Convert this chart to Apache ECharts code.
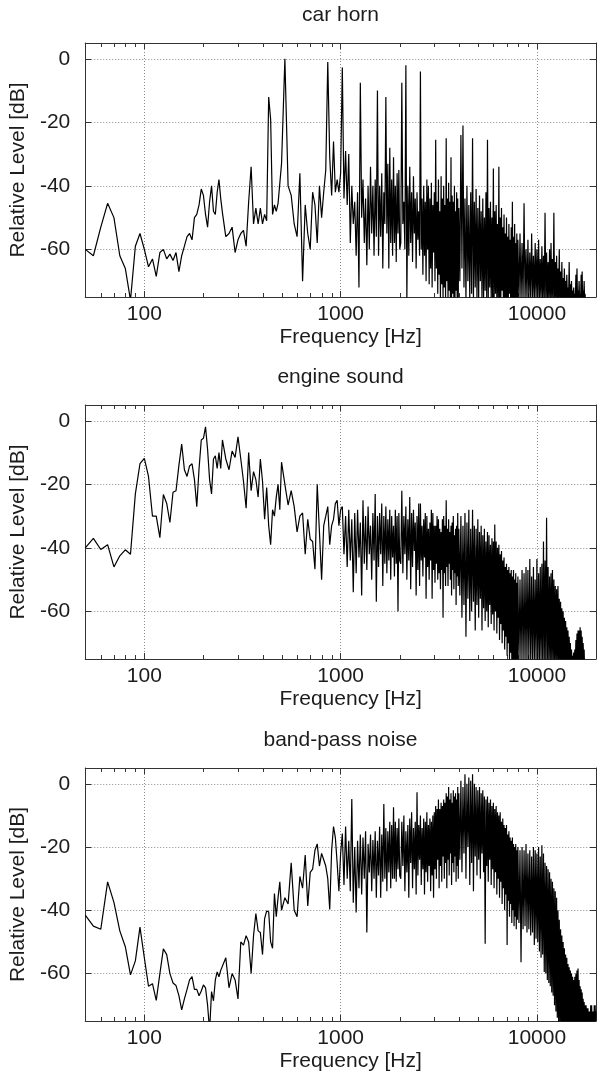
<!DOCTYPE html>
<html>
<head>
<meta charset="utf-8">
<script src="https://cdn.jsdelivr.net/npm/echarts@6/dist/echarts.min.js"></script>
<style>
html,body{margin:0;padding:0;background:#fff;}
#c{width:601px;height:1073px;}
</style>
</head>
<body>
<div id="c"></div>
<script>
// ---------- data ----------
const panelTitles = ['car horn', 'engine sound', 'band-pass noise'];
const xTickLabels = ['100', '1000', '10000'];
const yTickValues = [0, -20, -40, -60];
const minorTickHz = [60, 70, 80, 90, 200, 300, 400, 500, 600, 700, 800, 900,
  2000, 3000, 4000, 5000, 6000, 7000, 8000, 9000];

// shared frequency grid (Hz)
const freqHz = [
  50,55,60,65,70,75,80,85,90,95,100,105,110,115,120,125,130,135,140,145,150,155,160,165,170,175,180,185,190,195,200,205,210,215,220,225,230,235,240,245,250,
  260,270,280,290,300,310,320,330,340,350,360,370,380,390,400,410,420,430,440,450,460,470,480,490,500,
  520,540,560,580,600,620,640,660,680,700,720,740,760,780,800,820,840,860,880,900,920,940,960,980,1000,
  1020,1040,1060,1080,1100,1120,1140,1160,1180,1200,1220,1240,1260,1280,1300,1320,1340,1360,1380,1400,1420,1440,1460,1480,1500,
  1520,1540,1560,1580,1600,1620,1640,1660,1680,1700,1720,1740,1760,1780,1800,1820,1840,1860,1880,1900,1920,1940,1960,1980,2000,
  2025,2050,2075,2100,2125,2150,2175,2200,2225,2250,2275,2300,2325,2350,2375,2400,2425,2450,2475,2500,
  2525,2550,2575,2600,2625,2650,2675,2700,2725,2750,2775,2800,2825,2850,2875,2900,2925,2950,2975,3000,
  3025,3050,3075,3100,3125,3150,3175,3200,3225,3250,3275,3300,3325,3350,3375,3400,3425,3450,3475,3500,
  3525,3550,3575,3600,3625,3650,3675,3700,3725,3750,3775,3800,3825,3850,3875,3900,3925,3950,3975,4000,
  4050,4100,4150,4200,4250,4300,4350,4400,4450,4500,4550,4600,4650,4700,4750,4800,4850,4900,4950,5000,
  5050,5100,5150,5200,5250,5300,5350,5400,5450,5500,5550,5600,5650,5700,5750,5800,5850,5900,5950,6000,
  6050,6100,6150,6200,6250,6300,6350,6400,6450,6500,6550,6600,6650,6700,6750,6800,6850,6900,6950,7000,
  7050,7100,7150,7200,7250,7300,7350,7400,7450,7500,7550,7600,7650,7700,7750,7800,7850,7900,7950,8000,
  8100,8200,8300,8400,8500,8600,8700,8800,8900,9000,9100,9200,9300,9400,9500,9600,9700,9800,9900,10000,
  10100,10200,10300,10400,10500,10600,10700,10800,10900,11000,11100,11200,11300,11400,11500,11600,11700,11800,11900,12000,
  12100,12200,12300,12400,12500,12600,12700,12800,12900,13000,13100,13200,13300,13400,13500,13600,13700,13800,13900,14000,
  14100,14200,14300,14400,14500,14600,14700,14800,14900,15000,15100,15200,15300,15400,15500,15600,15700,15800,15900,16000,
  16100,16200,16300,16400,16500,16600,16700,16800,16900,17000,17100,17200,17300,17400,17500,17600,17700,17800,17900,18000,
  18100,18200,18300,18400,18500,18600,18700,18800,18900,19000,19100,19200,19300,19400,19500,19600,19700,19800,19900,20000
];

// relative level (dB) per panel, aligned with freqHz
const carHornDb = [
  -60,-62,-53,-45.5,-50,-62,-66,-76,-59,-55,-60,-65.5,-63,-68.5,-61,-60,-63,-61.5,-63.5,-61,-67,-62,-59,-56,-55,-57,-50,-49,-46,-41,-43,-49,-53,-45,-40,-48,-49,-42,-38,-44,-48.5,
  -56,-55,-53,-61,-57,-55,-54,-59,-45,-34,-52,-47,-52,-47,-52,-49,-51,-12,-19,-49,-46,-48,-45.5,-45,-33,
  0,-40,-43,-52,-56,-36,-70,-46,-55,-60,-42,-46,-58,-40,-50,-42,-35,-1,-31,-43,-26,-42,-38,-42,-36,
  -2.7,-44,-29,-46,-30,-58,-40,-52,-45,-62,-42,-72,-7.5,-50,-38,-58,-44,-65,-40,-60,-34,-55,-40,-62,-38,
  -56,-10,-62,-40,-56,-36,-66,-42,-52,-12,-55,-33,-66,-28,-58,-38,-62,-31,-58,-40,-64,-36,-55,-35,-60,
  -58,-7.5,-52,-45,-60,-2,-76,-40,-62,-34,-58,-42,-64,-37,-55,-44,-66,-42,-57,-48,
  -62,-4,-60,-44,-68,-40,-62,-45,-70,-38,-60,-40,-71,-44,-66,-39,-72,-46,-61,-42,
  -70,-25.5,-66,-45,-74,-38,-68,-48,-76,-37,-71,-44,-76,-40,-72,-46,-76,-25,-70,-44,
  -76,-39,-73,-45,-76,-31,-76,-43,-74,-45,-76,-40,-76,-48,-73,-42,-76,-44,-76,-47,
  -70,-24,-66,-21,-72,-44,-76,-40,-70,-46,-76,-42,-74,-25,-76,-45,-72,-41,-76,-47,
  -76,-43,-70,-48,-76,-44,-76,-50,-73,-42,-76,-25.5,-76,-47,-72,-45,-76,-50,-76,-34.5,
  -76,-48,-74,-46,-76,-52,-76,-34,-76,-50,-76,-47,-73,-53,-76,-49,-76,-55,-76,-50,
  -76,-56,-76,-52,-74,-57,-76,-53,-76,-45,-76,-56,-76,-52,-76,-58,-76,-55,-76,-57,
  -76,-55,-76,-58,-76,-45.5,-76,-60,-76,-57,-76,-61,-76,-55,-76,-62,-76,-58,-76,-60,
  -76,-57,-76,-63,-76,-59,-76,-62,-76,-48.5,-76,-61,-76,-64,-76,-60,-76,-58,-76,-63,
  -76,-48.5,-76,-64,-76,-62,-76,-66,-76,-60,-76,-67,-76,-64,-76,-69,-76,-66,-76,-70,
  -76,-68,-76,-72,-76,-64,-76,-71,-76,-70,-76,-73,-76,-72,-76,-74,-76,-68,-76,-66,
  -76,-73,-76,-70,-76,-74,-76,-68,-76,-67,-76,-73,-76,-70,-76,-74,-80,-80,-80,-80,
  -80,-80,-80,-80,-80,-80,-80,-80,-80,-80,-80,-80,-80,-80,-80,-80,-80,-80,-80,-80
];

const engineSoundDb = [
  -40,-37,-40.5,-39,-46,-42.5,-40.6,-42,-23,-13.5,-11.8,-17.5,-30,-30,-36.8,-23.2,-26,-32,-22.5,-22,-14,-7.3,-15.4,-17.5,-14.2,-13.5,-18.5,-27,-15,-6,-5.5,-1.9,-9,-18.5,-23,-12,-11,-15,-10,-15,-6,
  -12,-15.4,-9.5,-11.5,-5,-12,-19,-27.5,-10,-22,-16,-18.5,-24,-12,-19,-31,-21,-33,-39,-28,-30,-24,-20,-28,-13,
  -20,-26.5,-22,-27,-35,-30,-29,-42,-31,-37.3,-38,-46.7,-20,-35,-50,-33,-30,-27,-39,-33,-31,-26,-25,-33,-28,
  -27,-42,-30,-46,-28,-44,-31,-54,-29,-48,-28,-43,-32,-55,-25,-45,-30,-47,-27,-42,-33,-50,-29,-44,-23,
  -57,-30,-46,-29,-42,-26,-52,-30,-45,-27,-48,-31,-44,-28,-50,-30,-43,-33,-49,-28,-45,-30,-60,-29,-44,
  -45,-22,-48,-30,-42,-27,-50,-31,-44,-24,-53,-29,-46,-28,-41,-32,-55,-30,-47,-26,
  -52,-26,-44,-33,-49,-31,-43,-29,-56,-30,-46,-34,-50,-32,-44,-28,-56,-29,-47,-33,
  -51,-33,-45,-30,-50,-31,-48,-34,-53,-35,-47,-31,-62,-30,-48,-33,-52,-25,-46,-34,
  -52,-31,-45,-35,-50,-33,-55,-32,-47,-30,-53,-36,-48,-34,-58,-33,-49,-29,-52,-34,
  -55,-30,-62,-33,-58,-29,-68,-32,-56,-28,-63,-34,-60,-28,-57,-33,-66,-34,-58,-31,
  -62,-35,-56,-33,-66,-36,-59,-34,-63,-38,-60,-35,-65,-36,-58,-39,-64,-37,-61,-38,
  -66,-32.6,-60,-38,-67,-40,-62,-39,-69,-42,-64,-41,-70,-44,-66,-43,-72,-46,-68,-45,
  -74,-47,-70,-46,-76,-48,-73,-47,-76,-49,-76,-47,-76,-50,-76,-48,-76,-51,-76,-49,
  -76,-50,-76,-47,-76,-48,-76,-46,-76,-47,-76,-43.5,-76,-49,-76,-46,-76,-50,-76,-43.5,
  -76,-48,-76,-46,-76,-45,-76,-38,-76,-44,-76,-30.5,-76,-46,-76,-49,-76,-48,-76,-47,
  -76,-50,-76,-52,-76,-53,-76,-52,-76,-56,-76,-57,-76,-59,-76,-60,-76,-62,-76,-63,
  -76,-65,-76,-66,-76,-68,-76,-70,-76,-72,-76,-74,-76,-73,-76,-72,-76,-69,-76,-67,
  -76,-66,-76,-66,-76,-65,-76,-66,-76,-68,-76,-70,-76,-72,-78,-80,-80,-80,-80,-80,
  -80,-80,-80,-80,-80,-80,-80,-80,-80,-80,-80,-80,-80,-80,-80,-80,-80,-80,-80,-80
];

const bandPassNoiseDb = [
  -41.5,-45,-46,-31,-37.5,-46.5,-51.5,-60.4,-56,-45.3,-55,-64,-63.2,-68.5,-60,-52.2,-54,-60,-63,-63.8,-67,-71.5,-68,-65,-62,-61,-65,-65,-67,-65.5,-63.6,-64.5,-70,-78,-65.7,-68.6,-62,-59.5,-61,-59,-59.5,
  -55,-64.5,-60,-62,-68,-50,-51,-48,-50,-60,-48,-41,-46.5,-47,-54,-42.6,-40.2,-40.5,-50,-52,-34.7,-42,-36,-31,-40,
  -36,-38,-25,-40,-42,-29.3,-33,-22.5,-38.6,-28,-27,-21,-19,-26,-22,-24,-26,-30,-39.7,-21,-13.5,-17,-25,-34,-22,
  -15.7,-32,-13.5,-30,-18,-34,-4.8,-37.6,-20,-40.7,-18,-33,-16,-35,-17,-30,-15,-47,-19,-28,-16,-34,-17.8,-30,-15,
  -36,-18,-29,-13.6,-36,-16,-31,-6.4,-30,-14,-34,-15,-28,-12,-33,-13,-30,-7.4,-30,-12,-31,-14,-27,-11,-29,
  -30,-12,-26,-10,-34,-15,-28,-13,-36,-11,-25,-9,-33,-14,-27,-12,-35,-2.7,-29,-13,
  -24,-10,-32,-14,-27,-11,-35,-12,-28,-9,-31,-13,-26,-11,-34,-12,-29,-10,-36,-9,
  -27,-7,-30,-8,-24,-5,-33,-8,-26,-6,-31,-7,-23,-5,-30,-6,-25,-3,-33,-4,
  -24,-1,-29,-5,-22,-3,-32,-6,-25,-2,-28,-4,-23,-3,-31,-5,-26,-1,-30,-3,
  -24,1,-28,-1,-22,3,-30,0,-20,2,-32,1,-25,3,-34,0,-23,-1,-29,-2,
  -24,-1,-30,-3,-22,-2,-28,-4,-50.6,-5,-26,-4,-31,-6,-24,-5,-32,-7,-27,-6,
  -33,-8,-28,-7,-35,-9,-30,-10,-36,-9,-31,-12,-38,-11,-33,-13,-40,-14,-35,-13,
  -51,-16,-37,-15,-42,-17,-38,-18,-44,-17,-40,-19,-45,-20,-42,-19,-46,-21,-43,-20,
  -44,-21,-56.4,-20,-46,-21,-45,-19,-47,-22,-46,-21,-48,-23,-47,-20,-51,-21,-49,-22,
  -50,-20,-53,-23,-55,-19.4,-54,-22,-59.5,-25,-60,-26,-62,-27,-63,-28,-64,-30,-66,-31,
  -67,-33,-70,-34,-72,-36,-74,-40,-76,-43,-76,-46,-76,-48,-76,-50,-76,-52,-76,-54,
  -76,-55,-76,-57,-76,-58,-76,-59,-76,-60,-76,-61,-76,-62,-76,-61,-76,-60,-76,-59,
  -76,-58.4,-76,-62,-76,-64,-76,-65,-76,-66,-76,-68,-76,-69,-76,-70,-76,-70,-76,-71,
  -76,-71,-76,-72,-76,-72,-76,-70,-76,-70,-76,-72,-76,-72,-76,-70,-76,-70,-76,-72
];

const panelLevels = [carHornDb, engineSoundDb, bandPassNoiseDb];

// ---------- chart ----------
const FONT = '"Liberation Sans", Arial, Helvetica, sans-serif';
const TXT = '#1c1c1c';
const AX = '#333333';
const Y_MIN = -75, Y_MAX = 5, X_MIN = 50, X_MAX = 20000;
const PLOT_LEFT = 85, PLOT_W = 511, PLOT_H = 254;
const PLOT_TOPS = [43, 405, 768];
const FS = 21;

const grid = [], xAxis = [], yAxis = [], series = [], title = [];

PLOT_TOPS.forEach((top, i) => {
  grid.push({ left: PLOT_LEFT, top: top, width: PLOT_W, height: PLOT_H, containLabel: false });
  title.push({
    text: panelTitles[i], left: PLOT_LEFT + PLOT_W / 2, top: top - 38, textAlign: 'center', padding: 0,
    textStyle: { fontSize: FS, fontWeight: 'normal', color: TXT, fontFamily: FONT }
  });
  const logBase = {
    gridIndex: i, type: 'log', logBase: 10, min: X_MIN, max: X_MAX,
    axisLine: { show: true, onZero: false, lineStyle: { color: AX, width: 1 } },
    axisTick: { show: true, inside: true, length: 6, lineStyle: { color: AX, width: 1 } },
    minorTick: { show: false }
  };
  xAxis.push(Object.assign({}, logBase, {
    position: 'bottom',
    axisLabel: {
      show: true, showMinLabel: false, showMaxLabel: false, margin: 7,
      fontSize: FS, color: TXT, fontFamily: FONT,
      formatter: v => { const s = String(Math.round(v)); return xTickLabels.indexOf(s) >= 0 ? s : ''; }
    },
    splitLine: { show: true, lineStyle: { type: [1, 2], color: '#8a8a8a', width: 1 } },
    name: 'Frequency [Hz]', nameLocation: 'middle', nameGap: 30,
    nameTextStyle: { fontSize: FS, color: TXT, fontFamily: FONT, padding: [0, 0, 0, 20] }
  }));
  xAxis.push(Object.assign({}, logBase, {
    position: 'top', axisLabel: { show: false }, splitLine: { show: false }
  }));
  const valBase = {
    gridIndex: i, type: 'value', min: Y_MIN, max: Y_MAX, splitNumber: 4,
    axisLine: { show: true, onZero: false, lineStyle: { color: AX, width: 1 } },
    axisTick: { show: true, inside: true, length: 6, lineStyle: { color: AX, width: 1 } }
  };
  yAxis.push(Object.assign({}, valBase, {
    position: 'left',
    axisLabel: {
      show: true, showMinLabel: false, showMaxLabel: false, margin: 15,
      fontSize: FS, color: TXT, fontFamily: FONT,
      formatter: v => (yTickValues.indexOf(v) >= 0 ? String(v) : '')
    },
    splitLine: { show: true, lineStyle: { type: [1, 2], color: '#8a8a8a', width: 1 } },
    name: 'Relative Level [dB]', nameLocation: 'middle', nameGap: 49, nameRotate: 90,
    nameTextStyle: { fontSize: FS, color: TXT, fontFamily: FONT }
  }));
  yAxis.push(Object.assign({}, valBase, {
    position: 'right', axisLabel: { show: false }, splitLine: { show: false }
  }));

  series.push({
    type: 'line', xAxisIndex: 2 * i, yAxisIndex: 2 * i,
    data: freqHz.map((f, k) => [f, panelLevels[i][k]]),
    showSymbol: false, symbol: 'none', clip: true, animation: false,
    lineStyle: { color: '#000', width: 1.2 }
  });
  series.push({
    type: 'custom', xAxisIndex: 2 * i, yAxisIndex: 2 * i, animation: false, silent: true,
    data: minorTickHz.map(f => [f, Y_MIN]),
    renderItem: (params, api) => {
      const f = api.value(0);
      const b = api.coord([f, Y_MIN]);
      const t = api.coord([f, Y_MAX]);
      const x = Math.round(b[0]) + 0.5;
      return {
        type: 'group', children: [
          { type: 'line', shape: { x1: x, y1: b[1], x2: x, y2: b[1] - 4 }, style: { stroke: AX, lineWidth: 1 } },
          { type: 'line', shape: { x1: x, y1: t[1], x2: x, y2: t[1] + 4 }, style: { stroke: AX, lineWidth: 1 } }
        ]
      };
    }
  });
});

const chart = echarts.init(document.getElementById('c'), null, { renderer: 'canvas' });
chart.setOption({
  backgroundColor: '#ffffff',
  animation: false,
  title: title,
  grid: grid,
  xAxis: xAxis,
  yAxis: yAxis,
  series: series
});
</script>
</body>
</html>
